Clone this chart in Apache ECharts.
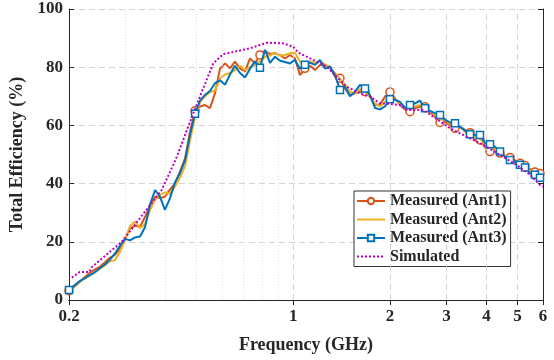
<!DOCTYPE html>
<html><head><meta charset="utf-8">
<script src="https://cdn.jsdelivr.net/npm/echarts@6/dist/echarts.min.js"></script>
<style>html,body{margin:0;padding:0;background:#fff}#c{width:554px;height:360px}</style>
</head><body><div id="c"></div>
<script>
const freq = [
  0.2,0.209,0.216,0.224,0.233,0.241,0.25,0.259,0.268,0.278,
  0.288,0.299,0.31,0.321,0.333,0.345,0.358,0.371,0.384,0.398,
  0.413,0.428,0.443,0.46,0.477,0.494,0.512,0.531,0.55,0.57,
  0.591,0.613,0.635,0.658,0.682,0.707,0.733,0.76,0.787,0.816,
  0.846,0.877,0.909,0.942,0.977,1.012,1.049,1.087,1.127,1.169,
  1.211,1.256,1.301,1.349,1.398,1.449,1.502,1.557,1.614,1.673,
  1.734,1.797,1.863,1.931,2.001,2.075,2.15,2.229,2.31,2.395,
  2.482,2.573,2.667,2.764,2.865,2.97,3.078,3.191,3.308,3.428,
  3.553,3.683,3.817,3.957,4.102,4.252,4.407,4.568,4.735,4.908,
  5.087,5.273,5.465,5.665,5.872,6.0
];
const ant1 = [
  3.2,4.8,6.2,7.8,9.5,10.5,11.5,13,14.5,15.5,
  17.5,21,24.6,25.5,25.2,28.5,32.5,35.5,35,35.5,
  38,40,44,48.7,58,65,66.5,67,65.9,71,
  79.5,81.3,79.6,81.9,79.6,78.5,83,81.3,84.2,85.6,
  84.5,84.8,84.2,83,84.2,83,77.3,79.6,80.5,79,
  80.8,80.5,80.2,76.7,76.2,72.7,70.4,71,71.6,71.6,
  69.9,67,67.2,69.9,71.5,69.3,67,65.5,64.7,65.9,
  66.5,66.4,64.5,63,61,61.3,60,59,59.5,58,
  57.5,54.8,55,52.5,51,52,50.5,49.5,49,48,
  47,46.2,45,44,43.5,43.2
];
const ant2 = [
  3.5,5,6.3,7.3,8.5,9.5,10.8,12,13.3,13.7,
  16.5,20.6,25.5,26.9,24.8,26,31,34.5,36,37,
  36.5,39,42,46,55,63,68,70,71.5,72,
  76,77.5,78,79,80.5,79,80,80.8,82,83.5,
  84,85,84,84.2,84.8,85,82,80.5,82,81.5,
  82,81,79.5,78,76,74,71.5,71,72.5,71.5,
  70,67.5,66.5,68,70.5,69,67.5,66,65.5,66.5,
  67,66,65,63.5,62,62,60.5,60,59.5,58.5,
  57.5,56,55.5,53.5,52.5,52,50.5,49.5,48.5,47.5,
  46.8,45.5,44.5,43.5,43,42.5
];
const ant3 = [
  3.4,5.2,6.5,7.5,8.6,9.6,11,12.2,13.8,16,
  18.5,21,20.5,21.5,21.8,25,33,37.8,35.5,31,
  35,40.5,43.5,48,57,64,68.5,70.5,71.8,74.5,
  75.5,74,77.5,80.5,78,76.5,79.5,82,79.8,86,
  81.5,83.6,82.2,81.8,81.3,82.5,79.5,80.8,81.5,80.8,
  82.5,79.5,80.2,77.3,72.2,73.3,70,71.6,73.9,72.7,
  70.4,66,65.5,66.5,69,68.8,68.1,66,67,67.6,
  68.5,65.9,65,64.2,63.6,62,61,60.7,59.5,58.4,
  57,56.7,56.7,54,53.5,52.7,51,49.2,48.1,47.5,
  46.5,45.5,43.5,43,42,42.5
];
const simFreq = [0.204,0.216,0.231,0.235,0.292,0.389,0.431,0.488,0.563,0.605,0.733,0.826,0.931,1.0,1.037,1.074,1.154,1.271,1.366,1.467,1.614,1.734,1.863,2.0,2.15,2.256,2.31,2.542,2.73,3.08,3.47,3.91,4.41,4.97,5.47,5.87,6.0];
const simVal = [7.7,9.6,9.6,11.2,20,37.8,48.5,64.2,81.3,84.5,86.5,88.4,88.2,87,85,84.2,82.5,80.2,76.7,73.3,71,69.9,67.6,67.4,67,65.3,65.3,65.3,63,59,56.1,53.3,49.8,46.4,43,39.5,39];
const markerFreqs = [0.2,0.5,0.8,1.1,1.4,1.7,2.0,2.3,2.6,2.9,3.2,3.5,3.8,4.1,4.4,4.7,5.0,5.3,5.6,5.9];
const xTicks = [0.2,1,2,3,4,5,6];
const xMajorGrid = [1,2,3,4,5];
const xMinorGrid = [0.3,0.4,0.5,0.6,0.7,0.8,0.9];
const seriesNames = ['Measured (Ant1)','Measured (Ant2)','Measured (Ant3)','Simulated'];

const markerIdx = new Set(markerFreqs.map(m => {
  let best = 0, bd = Infinity;
  freq.forEach((f, i) => { const d = Math.abs(Math.log(f) - Math.log(m)); if (d < bd) { bd = d; best = i; } });
  return best;
}));
function build(vals, withMarkers) {
  return freq.map((f, i) => (withMarkers && markerIdx.has(i)) ? [f, vals[i]] : { value: [f, vals[i]], symbol: 'none' });
}
const FONT = 'Liberation Serif';
const AX = '#262626';
const chart = echarts.init(document.getElementById('c'), null, { renderer: 'canvas' });
const lab = { fontFamily: FONT, fontWeight: 'bold', fontSize: 17, color: AX };
chart.setOption({
  animation: false,
  backgroundColor: '#fff',
  grid: { left: 69, right: 11, top: 9, bottom: 60 },
  legend: {
    data: [
      { name: seriesNames[0] },
      { name: seriesNames[1], itemStyle: { opacity: 0 } },
      { name: seriesNames[2] },
      { name: seriesNames[3], itemStyle: { opacity: 0 } }
    ],
    orient: 'vertical', left: 354, top: 191,
    backgroundColor: '#fff', borderColor: '#333', borderWidth: 1,
    padding: [2, 4, 2, 2], itemGap: 2.5, itemWidth: 28, itemHeight: 8,
    textStyle: { fontFamily: FONT, fontWeight: 'bold', fontSize: 16, color: AX }
  },
  xAxis: [{
    type: 'log', logBase: 10, min: 0.2, max: 6, position: 'bottom',
    axisLine: { show: true, lineStyle: { color: AX, width: 1 } },
    axisTick: { show: true, inside: true, length: 5, customValues: xTicks, lineStyle: { color: AX } },
    axisLabel: Object.assign({ customValues: xTicks, margin: 8, formatter: v => String(v) }, lab),
    splitLine: { show: false }, minorTick: { show: false },
    name: 'Frequency (GHz)', nameLocation: 'middle', nameGap: 36,
    nameTextStyle: { fontFamily: FONT, fontWeight: 'bold', fontSize: 18, color: AX }
  }, {
    type: 'log', logBase: 10, min: 0.2, max: 6, position: 'top',
    axisLine: { show: true, lineStyle: { color: AX, width: 1 } },
    axisTick: { show: true, inside: true, length: 5, customValues: xTicks, lineStyle: { color: AX } },
    axisLabel: { show: false }, splitLine: { show: false }
  }],
  yAxis: [{
    type: 'value', min: 0, max: 100, interval: 20,
    axisLine: { show: true, lineStyle: { color: AX, width: 1 } },
    axisTick: { show: true, inside: true, length: 5, lineStyle: { color: AX } },
    axisLabel: Object.assign({ margin: 6 }, lab),
    splitLine: { show: true, lineStyle: { type: [6, 4], color: '#d4d4d4', width: 1 } },
    name: 'Total Efficiency (%)', nameLocation: 'middle', nameGap: 33, nameRotate: 90,
    nameTextStyle: { fontFamily: FONT, fontWeight: 'bold', fontSize: 18, color: AX }
  }, {
    type: 'value', min: 0, max: 100, interval: 20, position: 'right',
    axisLine: { show: true, lineStyle: { color: AX, width: 1 } },
    axisTick: { show: true, inside: true, length: 5, lineStyle: { color: AX } },
    axisLabel: { show: false }, splitLine: { show: false }
  }],
  series: [
    {
      name: 'gridlines', type: 'line', data: [[1, 50]], symbol: 'none', silent: true, z: 0,
      lineStyle: { opacity: 0 },
      markLine: {
        silent: true, symbol: ['none', 'none'], label: { show: false }, animation: false,
        data: xMajorGrid.map(v => ({ xAxis: v, lineStyle: { type: [6, 4], color: '#d4d4d4', width: 1 } }))
          .concat(xMinorGrid.map(v => ({ xAxis: v, lineStyle: { type: [1, 2], color: '#dedede', width: 1 } })))
      }
    },
    {
      name: seriesNames[0], type: 'line', data: build(ant1, true), z: 3,
      symbol: 'circle', symbolSize: 8, showSymbol: true,
      lineStyle: { color: '#D95319', width: 2 },
      itemStyle: { color: '#fff', borderColor: '#D95319', borderWidth: 1.5 }
    },
    {
      name: seriesNames[1], type: 'line', data: build(ant2, false), z: 4,
      symbol: 'none', showSymbol: false,
      lineStyle: { color: '#EDB120', width: 2 },
      itemStyle: { color: '#EDB120' }
    },
    {
      name: seriesNames[2], type: 'line', data: build(ant3, true), z: 5,
      symbol: 'rect', symbolSize: 7, showSymbol: true,
      lineStyle: { color: '#0072BD', width: 2 },
      itemStyle: { color: '#fff', borderColor: '#0072BD', borderWidth: 1.5 }
    },
    {
      name: seriesNames[3], type: 'line', data: simFreq.map((f, i) => [f, simVal[i]]), z: 6,
      symbol: 'none', showSymbol: false,
      lineStyle: { color: '#C000C0', width: 2, type: [2, 2] },
      itemStyle: { color: '#C000C0' }
    }
  ]
});
</script>
</body></html>
